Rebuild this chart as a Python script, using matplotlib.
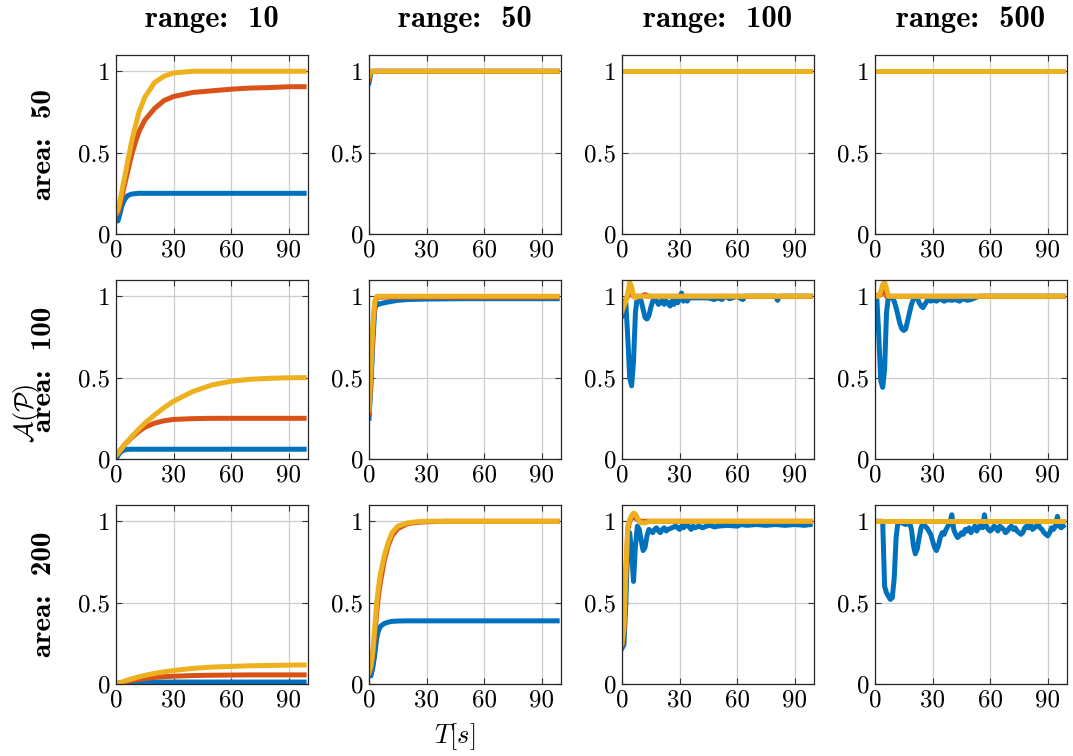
import matplotlib
matplotlib.use("Agg")
import matplotlib.pyplot as plt

plt.rcParams["font.family"] = ["cmr10", "DejaVu Serif"]
plt.rcParams["mathtext.fontset"] = "cm"
plt.rcParams["axes.formatter.use_mathtext"] = True

BLUE, ORANGE, YELLOW = "#0072BD", "#D95319", "#EDB120"

RANGES = [10, 50, 100, 500]
AREAS = [50, 100, 200]

# shared time grid for the smooth curves
T_S = [0, 1, 2, 3, 4, 5, 6, 8, 10, 12, 15, 20, 25, 30, 40, 50, 60, 70, 80, 90, 98]
T_FLAT = [0, 98]

# ---- area 50 ----
a50_r10_blue = [.10, .08, .12, .17, .20, .22, .235, .245, .248, .25, .25, .25, .25, .25, .25, .25, .25, .25, .25, .25, .25]
a50_r10_orange = [.12, .13, .17, .22, .28, .33, .38, .48, .56, .63, .70, .77, .82, .845, .87, .88, .89, .897, .90, .905, .905]
a50_r10_yellow = [.13, .15, .20, .26, .32, .38, .44, .56, .66, .75, .84, .93, .97, .99, 1.0, 1.0, 1.0, 1.0, 1.0, 1.0, 1.0]

T_A50_R50 = [0, 1, 2, 98]
a50_r50_blue = [.93, .99, 1.0, 1.0]
a50_r50_orange = [.95, 1.0, 1.0, 1.0]
a50_r50_yellow = [.97, 1.0, 1.0, 1.0]

a50_flat = [1.0, 1.0]

# ---- area 100 ----
a100_r10_blue = [0, .02, .038, .048, .054, .057, .059, .06, .06, .06, .06, .06, .06, .06, .06, .06, .06, .06, .06, .06, .06]
a100_r10_orange = [.02, .035, .05, .065, .08, .095, .105, .13, .15, .17, .195, .22, .235, .243, .248, .25, .25, .25, .25, .25, .25]
a100_r10_yellow = [.02, .035, .05, .065, .08, .095, .108, .135, .16, .185, .22, .27, .315, .355, .415, .455, .478, .49, .496, .499, .5]

T_A100_R50 = [0, 1, 2, 3, 4, 5, 6, 8, 10, 15, 20, 30, 50, 98]
a100_r50_blue = [.25, .45, .72, .92, .955, .95, .955, .96, .965, .975, .98, .983, .985, .985]
a100_r50_orange = [.28, .50, .78, .95, .99, .995, .995, .995, .995, .995, .995, .995, .995, .995]
a100_r50_yellow = [.30, .55, .82, .97, 1.0, 1.0, 1.0, 1.0, 1.0, 1.0, 1.0, 1.0, 1.0, 1.0]

T_A100_R100_B = [0, 1, 2, 3, 4, 5, 6, 7, 8, 9, 10, 11, 12, 13, 14, 15, 16, 17, 18, 19, 20,
                 21, 22, 23, 24, 25, 26, 27, 28, 29, 30, 31, 32, 33, 34, 35, 40, 45, 48, 50,
                 52, 54, 56, 60, 62, 63, 64, 66, 70, 80, 81, 82, 84, 90, 98]
a100_r100_blue = [.88, .93, .96, .75, .50, .45, .60, .90, 1.0, .99, .97, .92, .87, .86, .88, .93, .97, .99, .97, .95, .96,
                  .98, .95, .97, .96, .94, .97, .95, .98, .96, .99, 1.02, .97, .98, .97, .99, .99, .99, .98, .99,
                  .98, 1.0, .985, 1.0, .985, .98, 1.0, 1.0, 1.0, 1.0, .975, 1.0, 1.0, 1.0, 1.0]
T_A100_R100_O = [0, 1, 2, 3, 4, 5, 6, 8, 10, 12, 14, 98]
a100_r100_orange = [.90, .95, .98, 1.0, 1.02, 1.01, 1.0, 1.0, 1.0, 1.01, 1.0, 1.0]
T_A100_R100_Y = [0, 1, 2, 3, 4, 5, 6, 7, 8, 10, 98]
a100_r100_yellow = [.91, .94, .97, 1.02, 1.085, 1.06, 1.0, .99, 1.0, 1.0, 1.0]

T_A100_R500_B = [0, 1, 2, 3, 4, 5, 6, 7, 8, 9, 10, 11, 12, 13, 14, 15, 16, 17, 18, 19, 20,
                 21, 22, 23, 24, 25, 26, 27, 28, 29, 30, 32, 34, 36, 38, 40, 42, 44, 46, 48,
                 50, 52, 54, 98]
a100_r500_blue = [1.0, .98, .75, .48, .44, .55, .90, 1.0, 1.0, .99, .97, .93, .88, .83, .80, .79, .80, .85, .90, .95, .98,
                  1.0, .99, .96, .94, .93, .95, .97, .98, .97, .98, .97, .985, .97, .98, .975, .98, .97, .985, .975,
                  .98, .99, 1.0, 1.0]
T_A100_R500_O = [0, 3, 4, 5, 6, 98]
a100_r500_orange = [1.0, 1.01, 1.04, 1.05, 1.0, 1.0]
T_A100_R500_Y = [0, 2, 3, 4, 5, 6, 7, 98]
a100_r500_yellow = [1.0, 1.0, 1.03, 1.07, 1.085, 1.05, 1.0, 1.0]

# ---- area 200 ----
a200_r10_blue = [0, .004, .007, .009, .01, .011, .012, .012, .012, .012, .012, .012, .012, .012, .012, .012, .012, .012, .012, .012, .012]
a200_r10_orange = [0, .003, .006, .009, .012, .014, .017, .021, .025, .029, .034, .04, .045, .048, .052, .054, .055, .056, .056, .056, .056]
a200_r10_yellow = [0, .004, .008, .012, .016, .02, .024, .031, .038, .044, .053, .065, .075, .083, .096, .104, .108, .112, .114, .116, .117]

a200_r50_blue = [.07, .05, .10, .18, .28, .33, .355, .372, .38, .385, .387, .388, .388, .388, .388, .388, .388, .388, .388, .388, .388]
a200_r50_orange = [.07, .10, .18, .30, .44, .55, .63, .76, .85, .91, .955, .985, .993, .997, 1.0, 1.0, 1.0, 1.0, 1.0, 1.0, 1.0]
a200_r50_yellow = [.07, .11, .20, .35, .50, .60, .68, .79, .87, .93, .97, .99, .997, 1.0, 1.0, 1.0, 1.0, 1.0, 1.0, 1.0, 1.0]

T_A200_R100_B = [0, 1, 2, 3, 4, 5, 6, 7, 8, 9, 10, 11, 12, 13, 14, 15, 16, 17, 18, 19, 20,
                 21, 22, 23, 24, 26, 28, 30, 31, 32, 34, 36, 37, 38, 40, 42, 44, 46, 48, 50,
                 55, 60, 62, 65, 70, 75, 80, 85, 90, 95, 98]
a200_r100_blue = [.22, .24, .50, .88, .93, .80, .63, .85, .97, .95, .88, .82, .84, .91, .95, .94, .93, .95, .96, .94, .93,
                  .95, .96, .94, .95, .96, .97, .95, .97, .96, .98, .95, .97, .96, .97, .96, .97, .975, .965, .97,
                  .975, .97, .98, .975, .98, .975, .98, .975, .98, .975, .98]
T_A200_R100_O = [0, 1, 2, 3, 4, 5, 6, 8, 10, 98]
a200_r100_orange = [.24, .32, .65, .95, 1.0, 1.02, 1.03, 1.01, 1.0, 1.0]
T_A200_R100_Y = [0, 1, 2, 3, 4, 5, 6, 7, 8, 9, 10, 12, 14, 98]
a200_r100_yellow = [.25, .35, .70, .97, 1.01, 1.035, 1.05, 1.045, 1.02, 1.0, .99, .99, 1.0, 1.0]

T_A200_R500_B = [0, 2, 4, 5, 6, 7, 8, 9, 10, 11, 12, 14, 16, 18, 19, 20, 21, 22, 23, 24, 25,
                 26, 27, 28, 29, 30, 31, 32, 33, 34, 35, 36, 37, 38, 39, 40, 41, 42, 43, 44,
                 45, 46, 47, 48, 49, 50, 51, 52, 53, 54, 55, 56, 57, 58, 59, 60, 61, 62, 63,
                 64, 65, 66, 67, 68, 69, 70, 71, 72, 73, 74, 75, 76, 77, 78, 79, 80, 81, 82,
                 83, 84, 85, 86, 87, 88, 89, 90, 91, 92, 93, 94, 95, 96, 97, 98]
a200_r500_blue = [1.0, 1.0, 1.0, .60, .56, .54, .52, .53, .65, .90, 1.0, .99, .98, .99, .95, .85, .80, .83, .90, .96, .99,
                  .97, .96, .94, .92, .88, .84, .82, .85, .90, .93, .92, .95, .97, .99, 1.04, .95, .92, .90, .91,
                  .93, .92, .95, .94, .96, .93, .95, .97, .94, .96, .98, .96, 1.04, .97, .95, .94, .95, .97, .96,
                  .94, .97, .96, .95, .93, .94, .96, .97, .95, .96, .94, .93, .92, .93, .96, .97, .96, .98, .95,
                  .96, .97, .98, .96, .95, .93, .92, .91, .93, .96, .95, .97, 1.03, .97, .96, .97]
a200_flat = [1.0, 1.0]

# (row, col) -> list of (t, y, colour), drawn blue, orange, yellow
PANELS = {
    (0, 0): [(T_S, a50_r10_blue, BLUE), (T_S, a50_r10_orange, ORANGE), (T_S, a50_r10_yellow, YELLOW)],
    (0, 1): [(T_A50_R50, a50_r50_blue, BLUE), (T_A50_R50, a50_r50_orange, ORANGE), (T_A50_R50, a50_r50_yellow, YELLOW)],
    (0, 2): [(T_FLAT, a50_flat, BLUE), (T_FLAT, a50_flat, ORANGE), (T_FLAT, a50_flat, YELLOW)],
    (0, 3): [(T_FLAT, a50_flat, BLUE), (T_FLAT, a50_flat, ORANGE), (T_FLAT, a50_flat, YELLOW)],
    (1, 0): [(T_S, a100_r10_blue, BLUE), (T_S, a100_r10_orange, ORANGE), (T_S, a100_r10_yellow, YELLOW)],
    (1, 1): [(T_A100_R50, a100_r50_blue, BLUE), (T_A100_R50, a100_r50_orange, ORANGE), (T_A100_R50, a100_r50_yellow, YELLOW)],
    (1, 2): [(T_A100_R100_B, a100_r100_blue, BLUE), (T_A100_R100_O, a100_r100_orange, ORANGE), (T_A100_R100_Y, a100_r100_yellow, YELLOW)],
    (1, 3): [(T_A100_R500_B, a100_r500_blue, BLUE), (T_A100_R500_O, a100_r500_orange, ORANGE), (T_A100_R500_Y, a100_r500_yellow, YELLOW)],
    (2, 0): [(T_S, a200_r10_blue, BLUE), (T_S, a200_r10_orange, ORANGE), (T_S, a200_r10_yellow, YELLOW)],
    (2, 1): [(T_S, a200_r50_blue, BLUE), (T_S, a200_r50_orange, ORANGE), (T_S, a200_r50_yellow, YELLOW)],
    (2, 2): [(T_A200_R100_B, a200_r100_blue, BLUE), (T_A200_R100_O, a200_r100_orange, ORANGE), (T_A200_R100_Y, a200_r100_yellow, YELLOW)],
    (2, 3): [(T_A200_R500_B, a200_r500_blue, BLUE), (T_FLAT, a200_flat, ORANGE), (T_FLAT, a200_flat, YELLOW)],
}

W, H = 1073, 756
fig = plt.figure(figsize=(W / 100, H / 100), dpi=100)

# axes boxes in pixels
COL_X = [116, 369, 622, 875]
ROW_Y = [55, 280, 505]
AX_W, AX_H = 192, 179

for (r, c), series in PANELS.items():
    ax = fig.add_axes([COL_X[c] / W, 1 - (ROW_Y[r] + AX_H) / H, AX_W / W, AX_H / H])
    for t, y, col in series:
        ax.plot(t, y, color=col, lw=3.6, solid_joinstyle="round")
    ax.set_xlim(0, 100)
    ax.set_ylim(0, 1.1)
    ax.set_xticks([0, 30, 60, 90])
    ax.set_xticklabels(["0", "30", "60", "90"])
    ax.set_yticks([0, 0.5, 1])
    ax.set_yticklabels(["0", "0.5", "1"])
    ax.grid(True, color="#cccccc", lw=0.9)
    ax.set_axisbelow(True)
    ax.tick_params(direction="in", top=True, right=True, length=4, width=0.8,
                   color="#333333", labelsize=18, pad=4)
    for sp in ax.spines.values():
        sp.set_color("#262626")
        sp.set_linewidth(0.9)
    if r == 0:
        ax.set_title(f"range:  {RANGES[c]}", fontfamily="cmb10", fontsize=22, pad=20)

for r, area in enumerate(AREAS):
    yc = 1 - (ROW_Y[r] + AX_H / 2) / H
    fig.text(44 / W, yc, f"area:  {area}", rotation=90, ha="center", va="center",
             fontfamily="cmb10", fontsize=21)

fig.text(27 / W, 1 - 413 / H, r"$\mathcal{A}(\mathcal{P})$", rotation=90,
         ha="center", va="center", fontsize=19)
fig.text(455 / W, 1 - 737 / H, r"$T[s]$", ha="center", va="center", fontsize=19)

fig.savefig("out.png", dpi=100)
